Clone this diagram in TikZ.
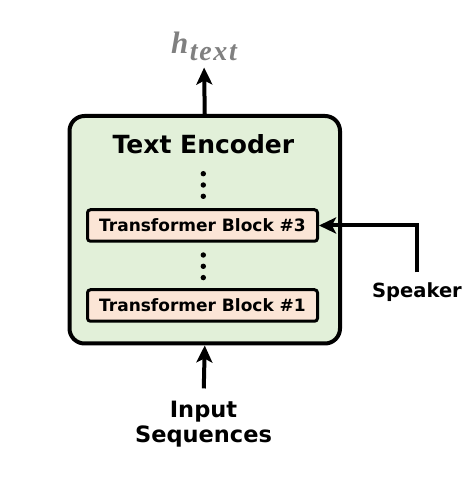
\documentclass[tikz,border=0pt]{standalone}
\usepackage{fontspec}
\setmainfont{DejaVu Sans}
\newfontfamily\htextfont{Liberation Serif}
\usetikzlibrary{arrows.meta,positioning}
\definecolor{encgreen}{HTML}{E2F0D9}
\definecolor{blocksalmon}{HTML}{FBE5D6}
\definecolor{outgrey}{HTML}{808080}

\begin{document}
\begin{tikzpicture}[x=1pt, y=1pt]
		\tikzset{
			encbox/.style={draw, line width=4pt, rounded corners=15pt, fill=encgreen,
				minimum width=270.5pt, minimum height=227.5pt, inner sep=0pt},
			blockbox/.style={draw, line width=3pt, rounded corners=3pt, fill=blocksalmon,
				minimum width=230pt, minimum height=31.5pt, inner sep=0pt,
				font=\fontsize{17}{20}\selectfont\bfseries},
			conn/.style={line width=4pt, -{Stealth[length=17pt, width=16pt, inset=4pt]}}
		}
		\useasboundingbox (0,0) rectangle (469,482);
		% encoder and its blocks
		\node [encbox] (encoder) at (204.75,252.25) {};
		\node [font=\fontsize{25}{30}\selectfont\bfseries, inner sep=0pt] (title) at (203.5,338) {Text Encoder};
		\node [blockbox] (block3) at (202.5,256.5) {Transformer Block \#3};
		\node [blockbox] (block1) at (202.5,176.5) {Transformer Block \#1};
		\coordinate (dotsA) at (203.3,297);
		\coordinate (dotsB) at (203.3,215.7);
		\foreach \dy in {-11.3,0,11.3} {
			\fill (dotsA) ++(0,\dy) circle (2.7pt);
			\fill (dotsB) ++(0,\dy) circle (2.7pt);
		}
		% inputs and output
		\node [inner sep=0pt, text=outgrey] (htext) at (204,436) {\htextfont\bfseries\itshape\fontsize{31}{34}\selectfont h\kern1.5pt\raisebox{-7pt}{\fontsize{28}{30}\selectfont\addfontfeature{LetterSpace=6}text}};
		\node [font=\fontsize{19.5}{24}\selectfont\bfseries, inner sep=0pt] (speaker) at (417,190) {Speaker};
		\node [font=\fontsize{22.5}{25}\selectfont\bfseries, align=center, inner sep=0pt] (input) at (203.5,58.3) {Input\\Sequences};
		\draw [conn, shorten >=7pt] (encoder.north) -- (htext.south);
		\draw [conn, shorten <=10pt] (speaker.north) |- (block3.east);
		\draw [conn, shorten <=12pt] (input.north) -- (encoder.south);
\end{tikzpicture}
\end{document}
